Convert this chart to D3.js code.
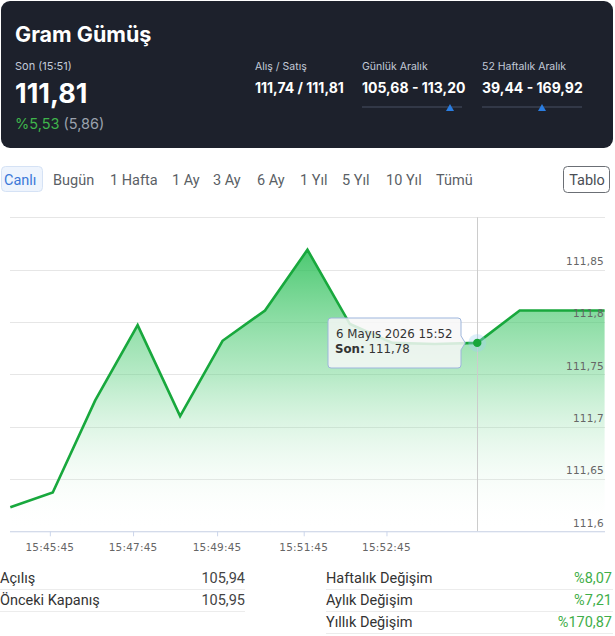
<!DOCTYPE html>
<html><head><meta charset="utf-8">
<script src="https://cdn.jsdelivr.net/npm/d3@7"></script>
<style>
html,body{margin:0;padding:0;background:#fff;}
svg{display:block;}
</style></head>
<body>
<svg id="c" width="615" height="636"></svg>
<script>
// ---- data ----
const title = "Gram Gümüş";
const lastLabel = "Son (15:51)";
const lastValue = "111,81";
const changePct = "%5,53";
const changeAbs = "(5,86)";
const headerCols = [
  {label:"Alış / Satış", value:"111,74 / 111,81", marker:null},
  {label:"Günlük Aralık", value:"105,68 - 113,20", marker:0.88},
  {label:"52 Haftalık Aralık", value:"39,44 - 169,92", marker:0.6}
];
const tabs = ["Canlı","Bugün","1 Hafta","1 Ay","3 Ay","6 Ay","1 Yıl","5 Yıl","10 Yıl","Tümü"];
const values = [111.623,111.637,111.725,111.797,111.710,111.782,111.811,111.869,111.798,111.780,111.779,111.780,111.811,111.811,111.811];
const xTickLabels = ["15:45:45","15:47:45","15:49:45","15:51:45","15:52:45"];
const xTickAt = [0.92,2.88,4.86,6.90,8.85]; // ordinal-axis positions (fractional point index)
const yTicks = [111.6,111.65,111.7,111.75,111.8,111.85,111.9];
const yTickLabels = ["111,6","111,65","111,7","111,75","111,8","111,85",""];
const hoverIndex = 11;
const tooltipDate = "6 Mayıs 2026 15:52";
const tooltipValue = "111,78";
const leftStats = [["Açılış","105,94"],["Önceki Kapanış","105,95"]];
const rightStats = [["Haftalık Değişim","%8,07"],["Aylık Değişim","%7,21"],["Yıllık Değişim","%170,87"]];

const svg = d3.select("#c");
const UI = "Roboto, 'Noto Sans', sans-serif";
const HD = "Inter, Roboto, sans-serif";
const CH = "'DejaVu Sans', sans-serif";

// ---- header ----
svg.append("rect").attr("x",1).attr("y",1).attr("width",612).attr("height",147).attr("rx",9).attr("fill","#1d212c");
svg.append("text").attr("x",15).attr("y",42).attr("fill","#fff").attr("font-family",HD).attr("font-weight",700).attr("font-size",21.5).text(title);
svg.append("text").attr("x",15).attr("y",70).attr("fill","#c3cad8").attr("font-family",HD).attr("font-size",11).text(lastLabel);
svg.append("text").attr("x",15).attr("y",103).attr("fill","#fff").attr("font-family",HD).attr("font-weight",700).attr("font-size",27).text(lastValue);
const ch = svg.append("text").attr("x",15).attr("y",128.5).attr("font-family",HD).attr("font-size",14.5);
ch.append("tspan").attr("fill","#3fb44b").text(changePct);
ch.append("tspan").attr("fill","#9aa1ad").text(" "+changeAbs);
const colX = [255,362,482];
headerCols.forEach((c,i)=>{
  svg.append("text").attr("x",colX[i]).attr("y",70).attr("fill","#c3cad8").attr("font-family",HD).attr("font-size",10.5).text(c.label);
  svg.append("text").attr("x",colX[i]).attr("y",93).attr("fill","#fff").attr("font-family",HD).attr("font-weight",700).attr("font-size",14).text(c.value);
  if(c.marker!==null){
    const w=100, x0=colX[i];
    svg.append("line").attr("x1",x0).attr("x2",x0+w).attr("y1",107).attr("y2",107).attr("stroke","#3a4150").attr("stroke-width",1.5);
    const mx = x0 + c.marker*w;
    svg.append("path").attr("d",`M${mx-4},111 L${mx+4},111 L${mx},104 Z`).attr("fill","#2a7de1");
  }
});

// ---- tabs ----
const tabX = [4,53,110,172,213,257,300,342,386,436];
svg.append("rect").attr("x",1.5).attr("y",166.5).attr("width",41).attr("height",25).attr("rx",4).attr("fill","#eef4fd").attr("stroke","#d5e2f5");
tabs.forEach((t,i)=>{
  svg.append("text").attr("x",tabX[i]).attr("y",184.5).attr("font-family",UI).attr("font-size",14.5)
    .attr("fill", i===0?"#3b78d8":"#5b5f66").text(t);
});
svg.append("rect").attr("x",563.5).attr("y",166.5).attr("width",46).attr("height",26).attr("rx",4).attr("fill","#fff").attr("stroke","#6b6f75");
svg.append("text").attr("x",587).attr("y",184.5).attr("text-anchor","middle").attr("font-family",UI).attr("font-size",14.5).attr("fill","#4a4e55").text("Tablo");

// ---- chart ----
const L=10, R=605, T=217.3, B=531.3;
const x = d3.scaleLinear().domain([0, values.length-1]).range([L+0.3, R-0.4]);
const y = d3.scaleLinear().domain([111.6,111.9]).range([B,T]);
const g = svg.append("g");

// grid
g.selectAll(".grid").data(yTicks).join("line")
  .attr("x1",L).attr("x2",R).attr("y1",d=>Math.round(y(d))+0.5).attr("y2",d=>Math.round(y(d))+0.5)
  .attr("stroke","#e6e6e6").attr("stroke-width",1);

// gradient
const defs = svg.append("defs");
const grad = defs.append("linearGradient").attr("id","ag").attr("gradientUnits","userSpaceOnUse")
  .attr("x1",0).attr("x2",0).attr("y1",y(d3.max(values))).attr("y2",B);
grad.append("stop").attr("offset",0).attr("stop-color","#2cbf58").attr("stop-opacity",0.85);
grad.append("stop").attr("offset",0.45).attr("stop-color","#5fd182").attr("stop-opacity",0.45);
grad.append("stop").attr("offset",1).attr("stop-color","#ffffff").attr("stop-opacity",0);

const area = d3.area().x((d,i)=>x(i)).y0(B).y1(d=>y(d));
const line = d3.line().x((d,i)=>x(i)).y(d=>y(d));
g.append("path").datum(values).attr("d",area).attr("fill","url(#ag)");

// crosshair
g.append("line").attr("x1",Math.round(x(hoverIndex))+0.5).attr("x2",Math.round(x(hoverIndex))+0.5)
  .attr("y1",T).attr("y2",B).attr("stroke","#cccccc");

g.append("path").datum(values).attr("d",line).attr("fill","none").attr("stroke","#18a83d").attr("stroke-width",2.6).attr("stroke-linejoin","miter");

// x axis
const xAxis = d3.axisBottom(x).tickValues(xTickAt).tickFormat((d,i)=>xTickLabels[i]).tickSize(5).tickSizeOuter(0);
const xa = g.append("g").attr("transform",`translate(0,${B})`).call(xAxis);
xa.select(".domain").attr("d",`M${L},0.5H${R}`).attr("stroke","#ccd6eb");
xa.selectAll(".tick line").attr("stroke","#ccd6eb").attr("transform","translate(0.5,0)");
xa.selectAll(".tick text").attr("font-family",CH).attr("font-size",10.5).attr("fill","#666").attr("dy","1.1em").attr("letter-spacing","0.2");

// y labels
const yAxis = d3.axisRight(y).tickValues(yTicks).tickFormat((d,i)=>yTickLabels[i]).tickSize(0);
const ya = g.append("g").attr("transform",`translate(${R-1},0)`).call(yAxis);
ya.select(".domain").remove();
ya.selectAll(".tick text").attr("text-anchor","end").attr("x",0).attr("dy","-0.5em")
  .attr("font-family",CH).attr("font-size",10.5).attr("fill","#666").attr("letter-spacing","0.2");

// hover marker
const hx = x(hoverIndex), hy = y(values[hoverIndex]);
g.append("circle").attr("cx",hx).attr("cy",hy).attr("r",9).attr("fill","#9fd0f0").attr("opacity",0.35);
g.append("circle").attr("cx",hx).attr("cy",hy).attr("r",4.2).attr("fill","#17a63b");

// tooltip
const tx0=328, tx1=461, ty0=318, ty1=368;
const tp = g.append("g");
tp.append("path")
  .attr("d",`M${tx0+3},${ty0} H${tx1-3} Q${tx1},${ty0} ${tx1},${ty0+3} V${hy-7} L${hx-12},${hy} L${tx1},${hy+7} V${ty1-3} Q${tx1},${ty1} ${tx1-3},${ty1} H${tx0+3} Q${tx0},${ty1} ${tx0},${ty1-3} V${ty0+3} Q${tx0},${ty0} ${tx0+3},${ty0} Z`)
  .attr("fill","rgba(247,247,247,0.85)").attr("stroke","#9db5dc").attr("stroke-width",1);
tp.append("text").attr("x",336).attr("y",338).attr("font-family",CH).attr("font-size",11.8).attr("fill","#333").text(tooltipDate);
const t2 = tp.append("text").attr("x",335).attr("y",353).attr("font-family",CH).attr("font-size",11.8).attr("fill","#333");
t2.append("tspan").attr("font-weight",700).text("Son:");
t2.append("tspan").text(" "+tooltipValue);

// ---- stats table ----
const rowY = [582.5,604.5,626.5];
leftStats.forEach((r,i)=>{
  svg.append("text").attr("x",0).attr("y",rowY[i]).attr("font-family",UI).attr("font-size",14.5).attr("fill","#333").text(r[0]);
  svg.append("text").attr("x",245).attr("y",rowY[i]).attr("text-anchor","end").attr("font-family",UI).attr("font-size",14.5).attr("fill","#444").text(r[1]);
  svg.append("line").attr("x1",0).attr("x2",245).attr("y1",rowY[i]+7).attr("y2",rowY[i]+7).attr("stroke","#ececec");
});
rightStats.forEach((r,i)=>{
  svg.append("text").attr("x",326).attr("y",rowY[i]).attr("font-family",UI).attr("font-size",14.5).attr("fill","#333").text(r[0]);
  svg.append("text").attr("x",612).attr("y",rowY[i]).attr("text-anchor","end").attr("font-family",UI).attr("font-size",14.5).attr("fill","#3fae49").text(r[1]);
  svg.append("line").attr("x1",326).attr("x2",613).attr("y1",rowY[i]+7).attr("y2",rowY[i]+7).attr("stroke","#ececec");
});
</script>
</body></html>
